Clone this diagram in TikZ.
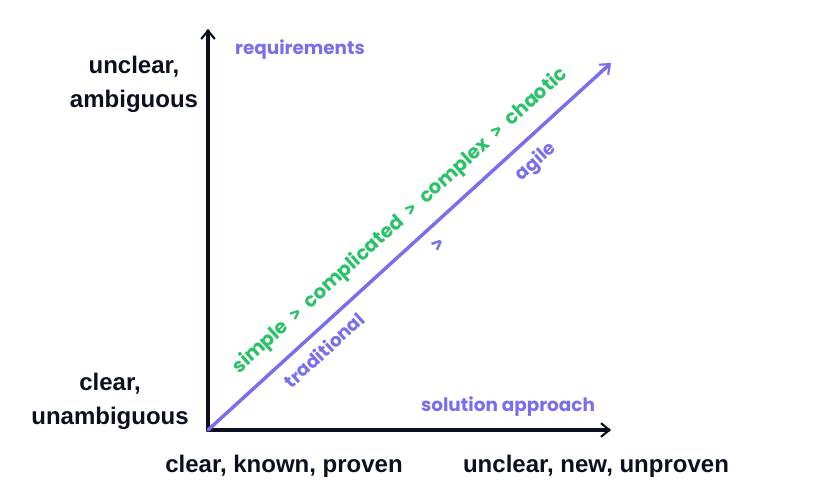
\documentclass[tikz,border=0pt]{standalone}
\usepackage{fontspec}
\setmainfont{Liberation Sans}
\newfontfamily\popfont{Poppins}
\newfontfamily\chevfont{Fira Sans}
\usetikzlibrary{arrows.meta, positioning}
\definecolor{axisnavy}{RGB}{11, 16, 33}
\definecolor{lavender}{RGB}{120, 110, 238}
\definecolor{leafgreen}{RGB}{40, 194, 104}
\newcommand{\chev}{{\chevfont\bfseries >}}
\newcommand{\gtsep}{\hspace{0.47em}\chev\hspace{0.47em}}
\tikzset{
    every path/.style={line cap=round, line join=round},
    >={Straight Barb[length=2.2mm, width=3.6mm, line width=1.6pt]},
    axislbl/.style={font=\fontsize{18}{25.5}\selectfont\bfseries, text=axisnavy, align=center, inner sep=0pt},
    purplelbl/.style={font=\popfont\fontsize{13.8}{15}\selectfont\bfseries, text=lavender, inner sep=0pt},
    greenlbl/.style={font=\popfont\fontsize{14.6}{16}\selectfont\bfseries, text=leafgreen, inner sep=0pt}
}

\begin{document}
\begin{tikzpicture}[x=0.75pt, y=-0.75pt]
    \useasboundingbox (0,0) rectangle (826,503);
    % axes
    \coordinate (origin) at (208,430);
    \coordinate (ytop) at (208,29);
    \coordinate (xend) at (611,430);
    \coordinate (diagend) at (611,63);
    \draw [->, axisnavy, line width=3.2pt] (origin) -- (ytop);
    \draw [->, axisnavy, line width=3.2pt] (origin) -- (xend);
    \draw [->, lavender, line width=2.6pt] (origin) -- (diagend);

    % axis labels
    \node [purplelbl] (req) at (300,50) {requirements};
    \node [purplelbl] (sol) at (508,407) {solution approach};
    \node [axislbl] (unclr) at (134,84) {unclear,\\ambiguous};
    \node [axislbl] (clr) at (110,401) {clear,\\unambiguous};
    \node [axislbl] (known) at (284,466) {clear, known, proven};
    \node [axislbl] (unknown) at (596,466) {unclear, new, unproven};

    % along the diagonal
    \node [greenlbl, rotate=42.2] (domains) at (400,221) {simple\gtsep complicated\gtsep complex\gtsep chaotic};
    \node [purplelbl, rotate=42.2] (trad) at (324,350) {traditional};
    \node [purplelbl, rotate=42.2, font=\chevfont\fontsize{16}{17}\selectfont\bfseries] (gt) at (438,245) {>};
    \node [purplelbl, rotate=42.2] (agile) at (536,162) {agile};
\end{tikzpicture}
\end{document}
